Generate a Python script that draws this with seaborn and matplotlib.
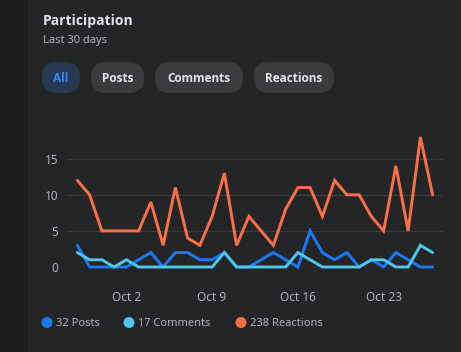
import matplotlib
matplotlib.use("Agg")
import matplotlib.pyplot as plt
from matplotlib.patches import FancyBboxPatch, Rectangle, Circle
import numpy as np
import pandas as pd
import seaborn as sns

# Dados (Sep 28 .. Oct 27)
dias = pd.date_range("2023-09-28", periods=30, freq="D")
posts = [3, 0, 0, 0, 0, 1, 2, 0, 2, 2, 1, 1, 2, 0, 0, 1, 2, 1, 0, 5, 2, 1, 2, 0, 1, 0, 2, 1, 0, 0]
comments = [2, 1, 1, 0, 1, 0, 0, 0, 0, 0, 0, 0, 2, 0, 0, 0, 0, 0, 2, 1, 0, 0, 0, 0, 1, 1, 0, 0, 3, 2]
reactions = [12, 10, 5, 5, 5, 5, 9, 3, 11, 4, 3, 7, 13, 3, 7, 5, 3, 8, 11, 11, 7, 12, 10, 10, 7, 5, 14, 5, 18, 10]
series_names = ["Posts", "Comments", "Reactions"]
tick_dates = pd.to_datetime(["2023-10-02", "2023-10-09", "2023-10-16", "2023-10-23"])
tick_labels = ["Oct 2", "Oct 9", "Oct 16", "Oct 23"]
y_ticks = [0, 5, 10, 15]
buttons = ["All", "Posts", "Comments", "Reactions"]

cores = {"Posts": "#1b79f2", "Comments": "#4fc6ea", "Reactions": "#fa7046"}
BG = "#242526"
STRIP = "#1b1c1d"
GRID = "#3a3b3c"
TXT = "#e4e6eb"
SUB = "#b0b3b8"
BOLD = ["Open Sans", "DejaVu Sans"]

dados = pd.DataFrame({"dia": list(dias) * 3,
                      "valor": posts + comments + reactions,
                      "serie": [s for s in series_names for _ in dias]})

sns.set_theme(style="dark")
plt.rcParams["font.family"] = ["Noto Sans", "DejaVu Sans"]

W, H = 461, 352
fig = plt.figure(figsize=(W / 100, H / 100), dpi=100, facecolor=BG)

# camada de fundo em pixels
bg = fig.add_axes([0, 0, 1, 1], zorder=0)
bg.set_xlim(0, W)
bg.set_ylim(H, 0)
bg.axis("off")
bg.add_patch(Rectangle((0, 0), 28, H, color=STRIP, lw=0))

bg.text(42.5, 20.5, "Participation", color=TXT, fontsize=10, fontweight="bold",
        family=BOLD, va="center", ha="left")
bg.text(43, 40, "Last 30 days", color=SUB, fontsize=8, va="center", ha="left")

pills = [(42, 38), (91, 53), (155, 88), (254, 80)]
for (px, pw), lab in zip(pills, buttons):
    ativo = lab == "All"
    bg.add_patch(FancyBboxPatch((px, 62), pw, 31, boxstyle="round,pad=0,rounding_size=15.5",
                                fc="#263951" if ativo else "#3a3b3c", ec="none"))
    bg.text(px + pw / 2, 78, lab, color="#2d88ff" if ativo else TXT, fontsize=8.5,
            fontweight="bold", family=BOLD, ha="center", va="center")

# legenda
leg_x = [47, 129, 241]
leg_txt = [f"{sum(posts)} Posts", f"{sum(comments)} Comments", f"{sum(reactions)} Reactions"]
for lx, lt, s in zip(leg_x, leg_txt, series_names):
    bg.add_patch(Circle((lx, 322.5), 5.5, color=cores[s], lw=0))
    bg.text(lx + 9, 323, lt, color=SUB, fontsize=8, va="center", ha="left")

# grafico
x0, x1 = 66.7, 443.3
y0, y1 = 267, 125
ax = fig.add_axes([x0 / W, 1 - y0 / H, (x1 - x0) / W, (y0 - y1) / H], zorder=1)
ax.set_facecolor("none")
sns.lineplot(data=dados, x="dia", y="valor", hue="serie", palette=cores, lw=2.1,
             ax=ax, legend=False)
for ln in ax.lines:
    ln.set_clip_on(False)
    ln.set_solid_joinstyle("miter")

ax.set_xlim(dias[0] - pd.Timedelta(days=0.87), dias[-1] + pd.Timedelta(days=0.87))
ax.set_ylim(0, (y0 - y1) / 7.22)
ax.set_yticks(y_ticks)
ax.set_xticks(tick_dates)
ax.set_xticklabels(tick_labels)
ax.grid(axis="y", color=GRID, lw=1)
ax.grid(axis="x", visible=False)
ax.tick_params(axis="both", length=0, colors=SUB, labelsize=8.5)
ax.tick_params(axis="y", pad=6)
ax.tick_params(axis="x", pad=17)
ax.set_xlabel("")
ax.set_ylabel("")
for sp in ax.spines.values():
    sp.set_visible(False)

fig.savefig("out.png", dpi=100, facecolor=BG)
